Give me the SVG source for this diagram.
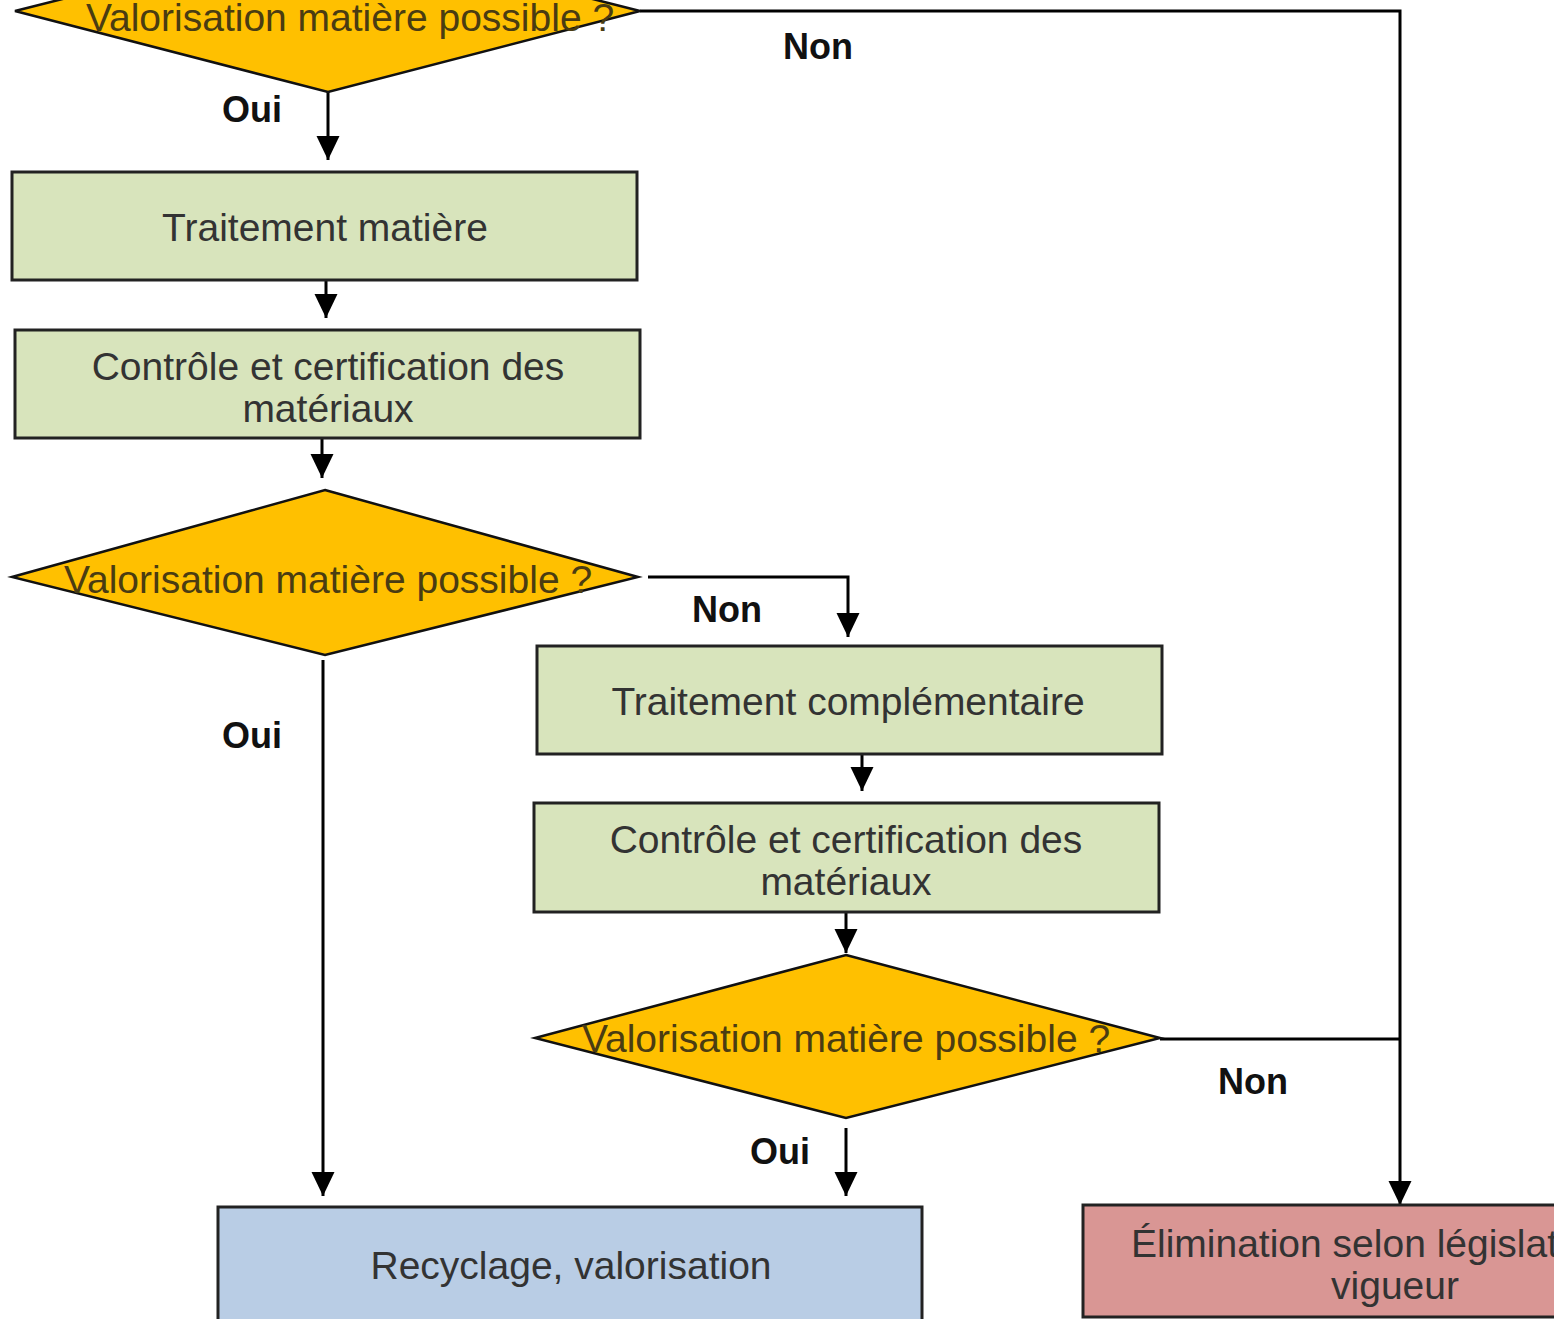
<svg xmlns="http://www.w3.org/2000/svg" width="1554" height="1319" viewBox="0 0 1554 1319">
<defs>
<marker id="arr" markerUnits="userSpaceOnUse" markerWidth="26" markerHeight="26" viewBox="0 0 26 26" refX="24" refY="13" orient="auto">
<path d="M0,1.5 L24,13 L0,24.5 Z" fill="#000"/>
</marker>
<style>
.box{stroke:#222;stroke-width:3}
.green{fill:#d8e4bc}
.blue{fill:#b9cde5}
.red{fill:#d99694}
.dia{fill:#ffc000;stroke:#111;stroke-width:2.5}
.t{font-family:"Liberation Sans",Arial,sans-serif;font-size:39px;fill:#333;text-anchor:middle}
.dt{font-family:"Liberation Sans",Arial,sans-serif;font-size:39px;fill:#4a3c12;text-anchor:middle}
.lbl{font-family:"Liberation Sans",Arial,sans-serif;font-size:36px;font-weight:bold;fill:#111;text-anchor:middle}
.c{fill:none;stroke:#000;stroke-width:3}
</style>
</defs>
<rect width="1554" height="1319" fill="#fff"/>
<g id="connectors">
<polyline class="c" points="640,11 1400,11 1400,1205" marker-end="url(#arr)"/>
<line class="c" x1="328" y1="92" x2="328" y2="160" marker-end="url(#arr)"/>
<line class="c" x1="326" y1="280" x2="326" y2="318" marker-end="url(#arr)"/>
<line class="c" x1="322" y1="438" x2="322" y2="478" marker-end="url(#arr)"/>
<polyline class="c" points="648,577 848,577 848,637" marker-end="url(#arr)"/>
<line class="c" x1="323" y1="660" x2="323" y2="1196" marker-end="url(#arr)"/>
<line class="c" x1="862" y1="754" x2="862" y2="791" marker-end="url(#arr)"/>
<line class="c" x1="846" y1="912" x2="846" y2="953" marker-end="url(#arr)"/>
<line class="c" x1="1160" y1="1039" x2="1400" y2="1039"/>
<line class="c" x1="846" y1="1128" x2="846" y2="1196" marker-end="url(#arr)"/>
<text class="lbl" x="818" y="59">Non</text>
<text class="lbl" x="252" y="122">Oui</text>
<text class="lbl" x="727" y="622">Non</text>
<text class="lbl" x="252" y="748">Oui</text>
<text class="lbl" x="1253" y="1094">Non</text>
<text class="lbl" x="780" y="1164">Oui</text>
</g>
<g id="decision1">
<polygon class="dia" points="328,-68 640,11 328,92 15,11"/>
<text class="dt" x="350" y="31">Valorisation matière possible ?</text>
</g>
<g id="traitement-matiere">
<rect class="box green" x="12" y="172" width="625" height="108"/>
<text class="t" x="325" y="241">Traitement matière</text>
</g>
<g id="controle1">
<rect class="box green" x="15" y="330" width="625" height="108"/>
<text class="t" x="328" y="380">Contrôle et certification des</text>
<text class="t" x="328" y="422">matériaux</text>
</g>
<g id="decision2">
<polygon class="dia" points="325,490 638,577 325,655 12,577"/>
<text class="dt" x="328" y="593">Valorisation matière possible ?</text>
</g>
<g id="traitement-complementaire">
<rect class="box green" x="537" y="646" width="625" height="108"/>
<text class="t" x="848" y="715">Traitement complémentaire</text>
</g>
<g id="controle2">
<rect class="box green" x="534" y="803" width="625" height="109"/>
<text class="t" x="846" y="853">Contrôle et certification des</text>
<text class="t" x="846" y="895">matériaux</text>
</g>
<g id="decision3">
<polygon class="dia" points="846,955 1160,1038 846,1118 535,1038"/>
<text class="dt" x="846" y="1052">Valorisation matière possible ?</text>
</g>
<g id="recyclage">
<rect class="box blue" x="218" y="1207" width="704" height="120"/>
<text class="t" x="571" y="1279">Recyclage, valorisation</text>
</g>
<g id="elimination">
<rect class="box red" x="1083" y="1205" width="700" height="112"/>
<text class="t" x="1131" y="1257" style="text-anchor:start">Élimination selon législat</text>
<text class="t" x="1395" y="1299">vigueur</text>
</g>
</svg>
